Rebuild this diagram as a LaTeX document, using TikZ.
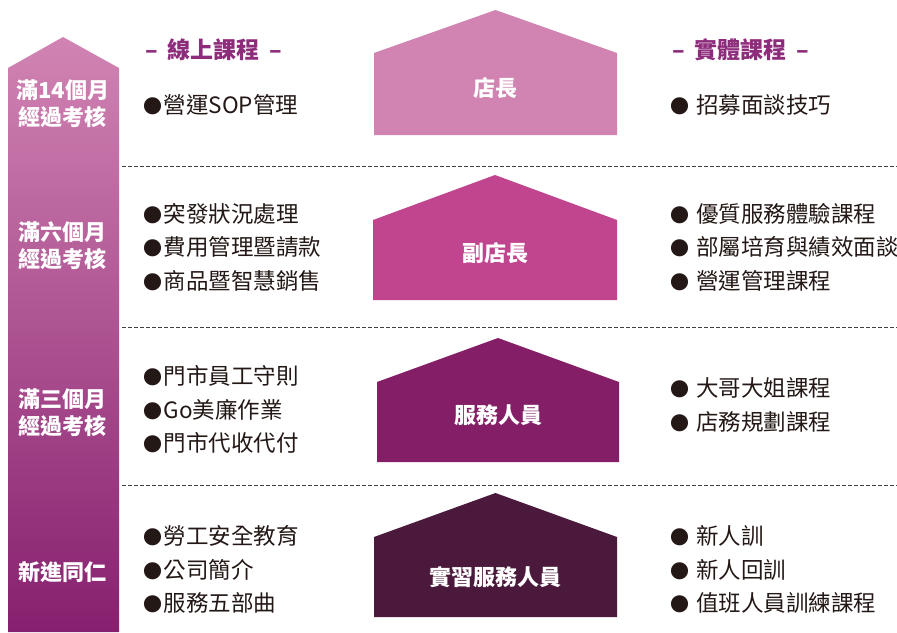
\documentclass[tikz,border=0pt]{standalone}
\usepackage{fontspec}
\setmainfont{Noto Sans CJK TC}
\definecolor{arrowtop}{HTML}{D184B3}
\definecolor{arrowbot}{HTML}{87206F}
\definecolor{houseA}{HTML}{D184B2}
\definecolor{houseB}{HTML}{C1448F}
\definecolor{houseC}{HTML}{841E66}
\definecolor{houseD}{HTML}{4B193C}
\definecolor{inkdark}{HTML}{231815}
\definecolor{headpurple}{HTML}{8E2C7C}
\newcommand{\dotmark}{\makebox[22pt][c]{\fontsize{19}{19}\selectfont●}}
\begin{document}
\begin{tikzpicture}
    [x=1pt,y=-1pt,every node/.style={inner sep=0pt},
     item/.style={anchor=west,text=inkdark,font=\fontsize{22.5}{22.5}\selectfont},
     head/.style={text=headpurple,font=\bfseries\fontsize{23}{23}\selectfont},
     stage/.style={text=white,align=center,font=\bfseries\fontsize{22}{27}\selectfont},
     roof/.style={text=white,font=\bfseries\fontsize{22}{22}\selectfont},
     sepline/.style={draw=black!75,line width=0.9pt,dash pattern=on 4pt off 2pt}]
    \useasboundingbox (0,0) rectangle (897,632);

    % left arrow
    \shade[top color=arrowtop,bottom color=arrowbot]
      (8,632) -- (8,68) -- (63,37) -- (119,68) -- (119,632) -- cycle;
    \node[stage] (sA) at (63,103.5) {滿14個月\\經過考核};
    \node[stage] (sB) at (63,246) {滿六個月\\經過考核};
    \node[stage] (sC) at (63,413) {滿三個月\\經過考核};
    \node[stage] (sD) at (63,572) {新進同仁};

    % separators
    \foreach \y in {166,327,485}
      \draw[sepline] (122,\y) -- (897,\y);

    % houses
    \foreach \nm/\xl/\xr/\ya/\ys/\yb/\yt/\col/\txt in {
        hA/374/617/10/53/135/88/houseA/店長,
        hB/373/617/175/220/300/253/houseB/副店長,
        hC/377/619/338/382/462/415/houseC/服務人員,
        hD/374/617/493/537/617/577/houseD/實習服務人員}
    {
      \fill[\col] (\xl,\yb) -- (\xl,\ys) -- ({(\xl+\xr)/2},\ya) -- (\xr,\ys) -- (\xr,\yb) -- cycle;
      \node[roof] (\nm) at ({(\xl+\xr)/2},\yt) {\txt};
    }

    % headings
    \node[head] (online) at (214,50) {–\hspace{10pt}線上課程\hspace{10pt}–};
    \node[head] (onsite) at (741,50) {–\hspace{10pt}實體課程\hspace{10pt}–};

    % online courses
    \foreach \i/\y/\txt in {1/105/營運SOP管理,
        2/214/突發狀況處理,3/247/費用管理暨請款,4/281/商品暨智慧銷售,
        5/376/門市員工守則,6/410/Go美廉作業,7/443/門市代收代付,
        8/536/勞工安全教育,9/570/公司簡介,10/603/服務五部曲}
      \node[item] (on\i) at (141.5,\y) {\dotmark\txt};

    % onsite courses
    \foreach \i/\y/\txt in {1/105/招募面談技巧,
        2/214/優質服務體驗課程,3/247/部屬培育與績效面談,4/281/營運管理課程,
        5/388/大哥大姐課程,6/422/店務規劃課程,
        7/536/新人訓,8/570/新人回訓,9/603/值班人員訓練課程}
      \node[item] (off\i) at (669,\y) {\dotmark\hspace{5pt}\txt};
\end{tikzpicture}
\end{document}
